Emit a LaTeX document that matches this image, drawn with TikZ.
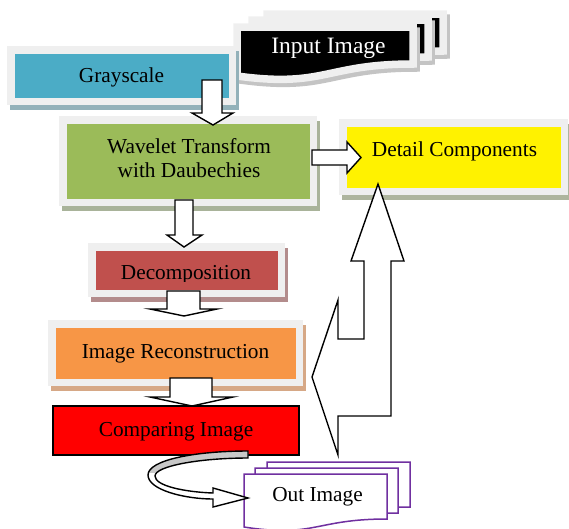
\documentclass[tikz,border=0pt]{standalone}
\usepackage{fontspec}
\setmainfont{Liberation Serif}
\definecolor{frameGray}{HTML}{EFEFEF}
\definecolor{docShadow}{HTML}{C4C4C4}
\definecolor{tealFill}{HTML}{4BACC6}
\definecolor{tealShadow}{HTML}{93B1B9}
\definecolor{greenFill}{HTML}{9BBB59}
\definecolor{greenShadow}{HTML}{A9B39A}
\definecolor{yellowShadow}{HTML}{AEB59E}
\definecolor{brickFill}{HTML}{C0504D}
\definecolor{brickShadow}{HTML}{B38C8C}
\definecolor{orangeFill}{HTML}{F79646}
\definecolor{orangeShadow}{HTML}{D6A886}
\definecolor{outPurple}{HTML}{7030A0}
\definecolor{bandGray}{HTML}{C8C8C8}

% framed panel: x1, y1, x2, y2 (outer frame), fill colour, shadow colour
\newcommand{\framedpanel}[6]{%
  \fill[#6] ({#1+3},{#2+5}) rectangle ({#3+3},{#4+5});
  \fill[frameGray] (#1,#2) rectangle (#3,#4);
  \fill[#5] ({#1+7.5},{#2+7.5}) rectangle ({#3-7.5},{#4-7.5});
}
% black document sheet with a light frame, shifted by dx, dy
\newcommand{\blacksheet}[2]{%
  \draw[docShadow, line width=7.5pt, line join=miter, shift={({#1+3},{#2+4})}]
    (237,27) -- (413,27) -- (413,64) .. controls (325,64) and (325,88) .. (237,76) -- cycle;
  \filldraw[fill=black, draw=frameGray, line width=7.5pt, line join=miter, shift={(#1,#2)}]
    (237,27) -- (413,27) -- (413,64) .. controls (325,64) and (325,88) .. (237,76) -- cycle;
}
% white document sheet with purple outline, shifted by dx, dy
\newcommand{\purplesheet}[2]{%
  \filldraw[fill=white, draw=outPurple, line width=1.5pt, line join=miter, shift={(#1,#2)}]
    (244,474) -- (387,474) -- (387,519) .. controls (315,519) and (315,538) .. (244,527) -- cycle;
}

\tikzset{
  label/.style={font=\fontsize{21.3}{24}\selectfont, inner sep=0pt, anchor=base, align=center},
  blockarrow/.style={draw=black, fill=white, line width=1.4pt, line join=miter},
}

\begin{document}
\begin{tikzpicture}[x=1pt, y=-1pt]
\useasboundingbox (0,0) rectangle (569,528);

% input image stack
\blacksheet{30}{-13}
\blacksheet{15}{-7}
\blacksheet{0}{0}
\node[label, text=white, font=\fontsize{23.5}{26}\selectfont] (input) at (328.5,53.3) {Input Image};

% process panels
\framedpanel{7}{46}{236}{105}{tealFill}{tealShadow}
\node[label] (gray) at (121.5,82.5) {Grayscale};

\framedpanel{59}{116}{317}{206}{greenFill}{greenShadow}
\node[label] (wavelet) at (189,177.3) {Wavelet Transform\\with Daubechies};

\framedpanel{339}{119}{568}{195}{yellow}{yellowShadow}
\node[label] (detail) at (454.5,156.7) {Detail Components};

\framedpanel{88}{243}{285}{297}{brickFill}{brickShadow}
\begin{scope}
  \clip (88,243) rectangle (285,281);
  \node[label] (decomp) at (186,279) {Decomposition};
\end{scope}

\framedpanel{48}{320}{303}{386}{orangeFill}{orangeShadow}
\node[label] (recon) at (175.5,358.3) {Image Reconstruction};

\filldraw[fill=red, draw=black, line width=1.5pt] (53,406) rectangle (299,455);
\node[label] (compare) at (176,436.7) {Comparing Image};

% output image stack
\purplesheet{23}{-12}
\purplesheet{11}{-6}
\purplesheet{0}{0}
\node[label] (out) at (317.5,501.7) {Out Image};

% block arrows between the stages
\draw[blockarrow] (202,80) -- (222,80) -- (222,113) -- (233,113) -- (213,125)
  -- (192,113) -- (202,113) -- cycle;
\draw[blockarrow] (175,200) -- (193,200) -- (193,235) -- (202,235) -- (184,247)
  -- (167,235) -- (175,235) -- cycle;
\draw[blockarrow] (167,291) -- (200,291) -- (200,309) -- (217,309) -- (184,316)
  -- (150,309) -- (167,309) -- cycle;
\draw[blockarrow] (170,378) -- (212,378) -- (212,397) -- (233,397) -- (192,406)
  -- (150,397) -- (170,397) -- cycle;
\draw[blockarrow] (312,150) -- (347,150) -- (347,142) -- (361,157.5) -- (347,173)
  -- (347,165) -- (312,165) -- cycle;

% feedback arrow up to the detail components and back to the reconstruction
\draw[blockarrow] (378,184) -- (404,261) -- (391,261) -- (391,416) -- (338,416)
  -- (338,455) -- (312,377) -- (338,300) -- (338,339) -- (364,339) -- (364,261)
  -- (351,261) -- cycle;

% curved arrow from the comparison to the output
\def\bandpath{(248,451) .. controls (195,451) and (148,460) .. (148,475)
  .. controls (148,490) and (185,499) .. (213,499) -- (213,507) -- (248,498)
  -- (213,488) -- (213,493) .. controls (185,492) and (155,486) .. (155,476)
  .. controls (155,466) and (200,458) .. (248,458) -- cycle}
\fill[white] \bandpath;
\begin{scope}
  \clip (140,440) rectangle (260,472);
  \fill[bandGray] \bandpath;
\end{scope}
\draw[line width=1.4pt, line join=miter] \bandpath;
\end{tikzpicture}
\end{document}
